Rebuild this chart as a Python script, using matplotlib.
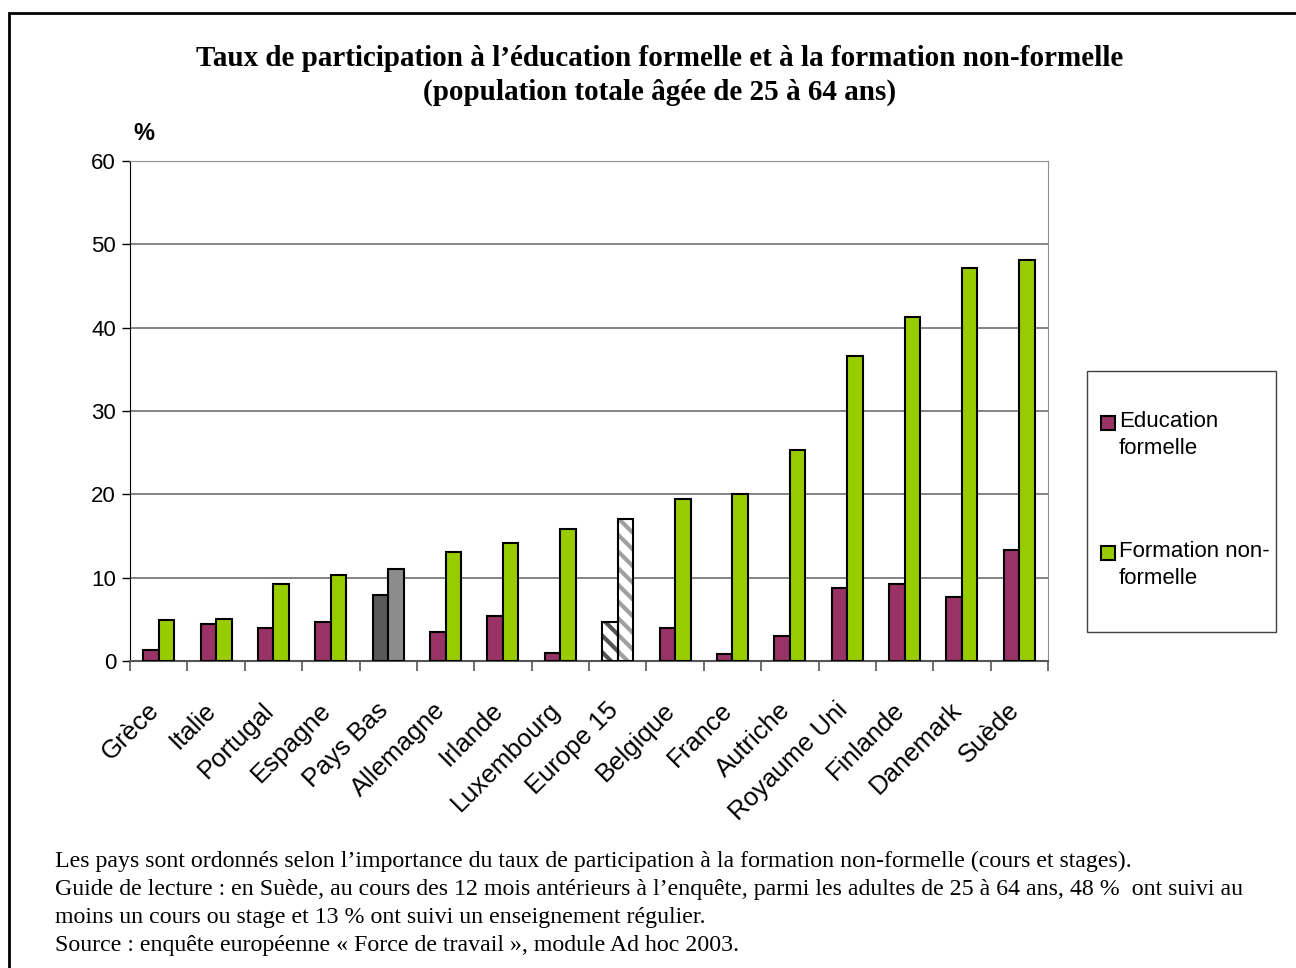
import numpy as np
import matplotlib
matplotlib.use("Agg")
import matplotlib.pyplot as plt
import matplotlib.transforms as mtransforms
from matplotlib.patches import Rectangle

# data
pays = ["Grèce", "Italie", "Portugal", "Espagne", "Pays Bas", "Allemagne", "Irlande",
        "Luxembourg", "Europe 15", "Belgique", "France", "Autriche", "Royaume Uni",
        "Finlande", "Danemark", "Suède"]
education_formelle = [1.3, 4.5, 4.0, 4.7, 7.9, 3.5, 5.4, 1.0, 4.7, 4.0, 0.9, 3.0, 8.8, 9.3, 7.7, 13.3]
formation_non_formelle = [4.9, 5.1, 9.3, 10.3, 11.0, 13.1, 14.2, 15.9, 17.1, 19.5, 20.1, 25.3, 36.6, 41.3, 47.1, 48.1]

titre = ["Taux de participation à l\u2019éducation formelle et à la formation non-formelle",
         "(population totale âgée de 25 à 64 ans)"]
legende = ["Education\nformelle", "Formation non-\nformelle"]
notes = ["Les pays sont ordonnés selon l\u2019importance du taux de participation à la formation non-formelle (cours et stages).",
         "Guide de lecture : en Suède, au cours des 12 mois antérieurs à l\u2019enquête, parmi les adultes de 25 à 64 ans, 48 %  ont suivi au",
         "moins un cours ou stage et 13 % ont suivi un enseignement régulier.",
         "Source : enquête européenne « Force de travail », module Ad hoc 2003."]

col_edu = "#993366"
col_nonf = "#99CC00"
sans = "Liberation Sans"
serif = "Liberation Serif"

W, H = 1296, 968
plt.rcParams['font.family'] = [sans, 'DejaVu Sans']
plt.rcParams['hatch.linewidth'] = 3.0
fig = plt.figure(figsize=(W / 100, H / 100), dpi=100)

def fx(px):
    return px / W

def fy(py):
    return 1 - py / H

# outer frame
fig.patches.append(Rectangle((fx(9), fy(1000)), fx(1400), fy(13) - fy(1000),
                             transform=fig.transFigure, fill=False, edgecolor="black", lw=2))

ax = fig.add_axes([fx(130), fy(661), fx(1048) - fx(130), fy(161) - fy(661)])

x = np.arange(len(pays))
bw = 0.27
for i in range(len(pays)):
    e, n = education_formelle[i], formation_non_formelle[i]
    if pays[i] == "Pays Bas":
        ax.bar(x[i] - bw / 2, e, bw, color="#595959", edgecolor="black", lw=1.5, zorder=3)
        ax.bar(x[i] + bw / 2, n, bw, color="#8c8c8c", edgecolor="black", lw=1.5, zorder=3)
    elif pays[i] == "Europe 15":
        ax.bar(x[i] - bw / 2, e, bw, color="white", hatch="\\\\", edgecolor="#555555", lw=0, zorder=3)
        ax.bar(x[i] + bw / 2, n, bw, color="white", hatch="\\\\", edgecolor="#a0a0a0", lw=0, zorder=3)
        ax.bar(x[i] - bw / 2, e, bw, fill=False, edgecolor="black", lw=1.5, zorder=4)
        ax.bar(x[i] + bw / 2, n, bw, fill=False, edgecolor="black", lw=1.5, zorder=4)
    else:
        ax.bar(x[i] - bw / 2, e, bw, color=col_edu, edgecolor="black", lw=1.5, zorder=3)
        ax.bar(x[i] + bw / 2, n, bw, color=col_nonf, edgecolor="black", lw=1.5, zorder=3)

ax.set_xlim(-0.5, len(pays) - 0.5)
ax.set_ylim(0, 60)
ax.set_yticks(range(0, 61, 10))
ax.tick_params(axis="y", labelsize=16, length=6, width=1, direction="out", colors="black", pad=4)
ax.yaxis.grid(True, color="#707070", lw=1.2, zorder=0)
ax.set_axisbelow(True)

# ticks at category boundaries
ax.set_xticks(np.arange(-0.5, len(pays), 1.0))
ax.set_xticklabels([])
ax.tick_params(axis="x", which="major", length=7, width=1.2, color="#555555")

# rotated category names, top-right corner just under each group
lab_tr = mtransforms.offset_copy(ax.get_xaxis_transform(), fig=fig, x=-12, y=-37, units="dots")
for i, p in enumerate(pays):
    ax.text(x[i], 0, p, transform=lab_tr, rotation=45, ha="right", va="top",
            rotation_mode="anchor", fontsize=18.5, fontfamily=sans)

for s in ["top", "right"]:
    ax.spines[s].set_color("#909090")
ax.spines["left"].set_color("black")
ax.spines["bottom"].set_color("#555555")
ax.spines["bottom"].set_linewidth(1.5)

fig.text(fx(133), fy(133), "%", fontsize=17, fontweight="bold", ha="left", va="center",
         fontfamily=sans)

# title
fig.text(fx(660), fy(58), titre[0], ha="center", va="center", fontsize=21,
         fontweight="bold", fontfamily=serif)
fig.text(fx(660), fy(92), titre[1], ha="center", va="center", fontsize=21,
         fontweight="bold", fontfamily=serif)

# legend box drawn by hand
fig.patches.append(Rectangle((fx(1087), fy(632)), fx(1276) - fx(1087), fy(371) - fy(632),
                             transform=fig.transFigure, fill=False, edgecolor="#404040", lw=1))
for k, (lab, col) in enumerate(zip(legende, [col_edu, col_nonf])):
    y0 = 416 + 130 * k
    fig.patches.append(Rectangle((fx(1101), fy(y0 + 14)), fx(14), fy(0) - fy(14),
                                 transform=fig.transFigure, facecolor=col,
                                 edgecolor="black", lw=1.5))
    fig.text(fx(1119), fy(y0 - 5), lab, ha="left", va="top", fontsize=16,
             linespacing=1.35, fontfamily=sans)

# notes
for k, line in enumerate(notes):
    fig.text(fx(55), fy(861 + 28 * k), line, ha="left", va="center", fontsize=17.2,
             fontfamily=serif)

fig.savefig("out.png", dpi=100)
